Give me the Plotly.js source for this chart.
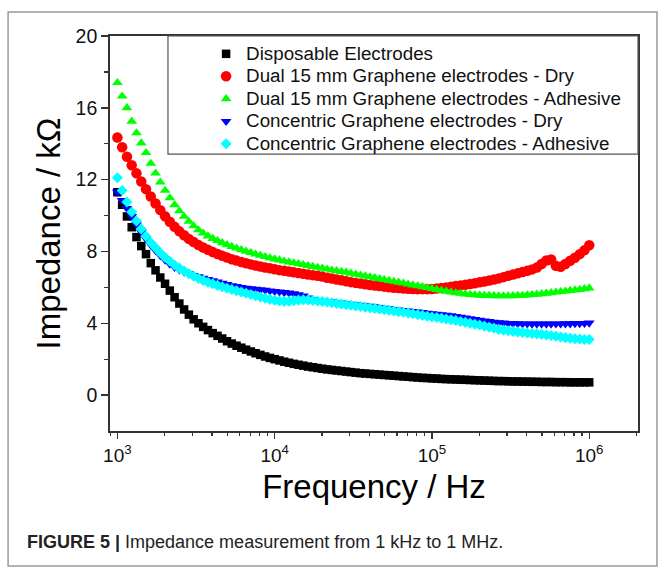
<!DOCTYPE html>
<html>
<head>
<meta charset="utf-8">
<script src="https://cdn.plot.ly/plotly-3.0.1.min.js"></script>
<style>
  html, body { margin: 0; padding: 0; background: #ffffff; }
  #chart { width: 665px; height: 571px; }
  .legend .legendtext { font-size: 18.8px !important; }
  .legend, .legend .scrollbox, .legend g { clip-path: none !important; }
</style>
</head>
<body>
<div id="chart"></div>
<script>
// ---- Data ----
const frequencyHz = [
  1000, 1072, 1150, 1233, 1322, 1418, 1520, 1630, 1748, 1874, 2009, 2154, 2310, 2477, 2656, 2848, 3054,
  3275, 3511, 3765, 4037, 4329, 4642, 4977, 5337, 5722, 6136, 6579, 7055, 7565, 8111, 8697, 9326,
  10000, 10723, 11498, 12328, 13219, 14175, 15199, 16298, 17475, 18738, 20092, 21544, 23101, 24771, 26561, 28480, 30539,
  32745, 35112, 37649, 40370, 43288, 46416, 49770, 53367, 57224, 61359, 65793, 70548, 75646, 81113, 86975, 93260,
  100000, 107227, 114976, 123285, 132194, 141747, 151991, 162975, 174753, 187382, 200923, 215443, 231013, 247708, 265609, 284804, 305386,
  327455, 351119, 376494, 403702, 432876, 464159, 497702, 533670, 572237, 613591, 657933, 705480, 756463, 811131, 869749, 932603,
  1000000
];

const disposable = [
  11.3, 10.6, 9.95, 9.35, 8.8, 8.3, 7.85, 7.35, 6.95, 6.55,
  6.2, 5.82, 5.45, 5.1, 4.77, 4.48, 4.22, 4.0, 3.8, 3.62,
  3.45, 3.3, 3.15, 3.0, 2.87, 2.75, 2.64, 2.53, 2.43, 2.33,
  2.24, 2.15, 2.07, 2.0, 1.93, 1.86, 1.8, 1.74, 1.69, 1.64,
  1.59, 1.55, 1.51, 1.47, 1.43, 1.4, 1.37, 1.34, 1.31, 1.28,
  1.25, 1.22, 1.2, 1.18, 1.16, 1.14, 1.12, 1.1, 1.08, 1.06,
  1.04, 1.02, 1.0, 0.98, 0.96, 0.95, 0.93, 0.92, 0.9, 0.89,
  0.88, 0.87, 0.86, 0.85, 0.84, 0.83, 0.82, 0.81, 0.8, 0.79,
  0.78, 0.78, 0.77, 0.76, 0.76, 0.75, 0.75, 0.74, 0.74, 0.73,
  0.73, 0.73, 0.72, 0.72, 0.72, 0.71, 0.71, 0.71, 0.71, 0.71
];

const dualDry = [
  14.35, 13.8, 13.27, 12.8, 12.35, 11.9, 11.47, 11.06, 10.67, 10.3,
  9.96, 9.65, 9.37, 9.12, 8.9, 8.7, 8.52, 8.36, 8.22, 8.09,
  7.97, 7.86, 7.76, 7.66, 7.57, 7.49, 7.41, 7.34, 7.28, 7.22,
  7.16, 7.11, 7.06, 7.01, 6.96, 6.92, 6.88, 6.84, 6.8, 6.76,
  6.72, 6.68, 6.64, 6.6, 6.54, 6.49, 6.44, 6.39, 6.34, 6.29,
  6.25, 6.21, 6.17, 6.13, 6.1, 6.07, 6.04, 6.01, 5.98, 5.96,
  5.94, 5.92, 5.91, 5.9, 5.9, 5.9, 5.91, 5.93, 5.96, 5.99,
  6.03, 6.07, 6.11, 6.15, 6.19, 6.23, 6.28, 6.33, 6.38, 6.44,
  6.5, 6.57, 6.64, 6.71, 6.78, 6.85, 6.92, 7.0, 7.1, 7.3,
  7.5, 7.55, 7.2, 7.15, 7.3, 7.48, 7.65, 7.85, 8.07, 8.35
];

const dualAdhesive = [
  17.4, 16.65, 16.0, 15.25, 14.6, 14.04, 13.5, 12.9, 12.36, 11.86,
  11.4, 10.98, 10.6, 10.26, 9.95, 9.67, 9.42, 9.2, 9.02, 8.86,
  8.72, 8.6, 8.48, 8.37, 8.27, 8.18, 8.09, 8.01, 7.93, 7.85,
  7.78, 7.71, 7.64, 7.58, 7.52, 7.46, 7.41, 7.36, 7.31, 7.26,
  7.21, 7.16, 7.11, 7.06, 7.01, 6.96, 6.92, 6.88, 6.84, 6.78,
  6.73, 6.68, 6.63, 6.58, 6.53, 6.48, 6.43, 6.38, 6.33, 6.28,
  6.23, 6.18, 6.13, 6.08, 6.03, 5.98, 5.93, 5.88, 5.83, 5.78,
  5.73, 5.69, 5.66, 5.63, 5.6, 5.58, 5.56, 5.55, 5.54, 5.53,
  5.52, 5.52, 5.52, 5.53, 5.54, 5.55, 5.57, 5.59, 5.61, 5.64,
  5.67, 5.7, 5.73, 5.76, 5.79, 5.82, 5.85, 5.88, 5.92, 5.96
];

const concentricDry = [
  11.3, 10.85, 10.4, 9.95, 9.5, 9.08, 8.7, 8.36, 8.05, 7.77,
  7.52, 7.3, 7.12, 6.98, 6.86, 6.76, 6.67, 6.6, 6.52, 6.44,
  6.37, 6.3, 6.23, 6.16, 6.1, 6.05, 6.0, 5.96, 5.93, 5.9,
  5.87, 5.84, 5.81, 5.78, 5.75, 5.72, 5.69, 5.65, 5.6, 5.52,
  5.42, 5.33, 5.27, 5.23, 5.2, 5.2, 5.16, 5.13, 5.1, 5.07,
  5.04, 5.01, 4.98, 4.95, 4.92, 4.88, 4.85, 4.82, 4.78, 4.75,
  4.72, 4.69, 4.66, 4.63, 4.6, 4.57, 4.54, 4.51, 4.48, 4.45,
  4.42, 4.38, 4.34, 4.3, 4.26, 4.22, 4.18, 4.14, 4.1, 4.07,
  4.04, 4.02, 4.0, 3.99, 3.98, 3.97, 3.97, 3.96, 3.96, 3.96,
  3.96, 3.96, 3.97, 3.97, 3.98, 3.98, 3.99, 3.99, 4.0, 4.02
];

const concentricAdhesive = [
  12.1, 11.4, 10.75, 10.2, 9.7, 9.25, 8.85, 8.5, 8.2, 7.92,
  7.67, 7.45, 7.25, 7.07, 6.91, 6.76, 6.62, 6.5, 6.39, 6.29,
  6.2, 6.11, 6.03, 5.95, 5.88, 5.81, 5.74, 5.67, 5.6, 5.53,
  5.46, 5.39, 5.33, 5.28, 5.24, 5.22, 5.23, 5.26, 5.29, 5.31,
  5.3, 5.27, 5.24, 5.21, 5.18, 5.14, 5.1, 5.07, 5.03, 5.0,
  4.96, 4.93, 4.89, 4.86, 4.82, 4.79, 4.75, 4.72, 4.68, 4.65,
  4.61, 4.57, 4.53, 4.48, 4.44, 4.39, 4.35, 4.32, 4.28, 4.24,
  4.2, 4.15, 4.1, 4.05, 4.0, 3.95, 3.9, 3.84, 3.78, 3.72,
  3.66, 3.62, 3.58, 3.55, 3.52, 3.49, 3.46, 3.43, 3.41, 3.38,
  3.35, 3.32, 3.28, 3.24, 3.2, 3.17, 3.14, 3.12, 3.1, 3.1
];

const seriesNames = [
  'Disposable Electrodes',
  'Dual 15 mm Graphene electrodes - Dry',
  'Dual 15 mm Graphene electrodes - Adhesive',
  'Concentric Graphene electrodes - Dry',
  'Concentric Graphene electrodes - Adhesive'
];

const xTickValues = [1e3, 1e4, 1e5, 1e6];
const xTickLabels = ['10<sup>3</sup>', '10<sup>4</sup>', '10<sup>5</sup>', '10<sup>6</sup>'];
const xMinorTickValues = [900, 2000, 3000, 4000, 5000, 6000, 7000, 8000, 9000,
  20000, 30000, 40000, 50000, 60000, 70000, 80000, 90000,
  200000, 300000, 400000, 500000, 600000, 700000, 800000, 900000, 2000000];
const yTickValues = [0, 4, 8, 12, 16, 20];
const yMinorTickValues = [2, 6, 10, 14, 18];

// ---- Styling ----
const FONT = '"Liberation Sans", Arial, Helvetica, sans-serif';
const AXIS = '#333333';

const styles = [
  { symbol: 'square', color: '#000000', size: 8.5 },
  { symbol: 'circle', color: '#ff0000', size: 10.5 },
  { symbol: 'triangle-up', color: '#00ff00', size: 9.5 },
  { symbol: 'triangle-down', color: '#0000ff', size: 9.5 },
  { symbol: 'diamond', color: '#00ffff', size: 8.5 }
];
const values = [disposable, dualDry, dualAdhesive, concentricDry, concentricAdhesive];

const traces = values.map((v, i) => ({
  type: 'scatter',
  mode: 'markers',
  name: seriesNames[i],
  x: frequencyHz,
  y: v,
  marker: { symbol: styles[i].symbol, color: styles[i].color, size: styles[i].size, line: { width: 0 } },
  cliponaxis: true
}));

const xRange = [2.953, 6.31];
const yRange = [-2, 20];

const layout = {
  width: 665,
  height: 571,
  margin: { l: 110, r: 27, t: 36, b: 140, pad: 0 },
  paper_bgcolor: '#ffffff',
  plot_bgcolor: '#ffffff',
  font: { family: FONT, color: '#111111' },
  hovermode: false,
  showlegend: true,
  legend: {
    x: 0.182, y: 0.996, xanchor: 'left', yanchor: 'top',
    bgcolor: 'rgba(0,0,0,0)', borderwidth: 0,
    font: { family: FONT, size: 15, color: '#111111' },
    tracegroupgap: 0
  },
  xaxis: {
    type: 'log', range: xRange,
    tickmode: 'array', tickvals: xTickValues, ticktext: xTickLabels,
    ticks: 'outside', ticklen: 6, tickwidth: 1.4, tickcolor: AXIS,
    showline: true, linecolor: AXIS, linewidth: 1.8, mirror: true,
    showgrid: false, zeroline: false,
    tickfont: { family: FONT, size: 19, color: '#111111' },
    minor: { tickmode: 'array', tickvals: xMinorTickValues, ticks: 'outside', ticklen: 3.5, tickwidth: 1.2, tickcolor: AXIS, showgrid: false },
    title: { text: 'Frequency / Hz', font: { family: FONT, size: 33, color: '#000000' }, standoff: 10 }
  },
  yaxis: {
    range: yRange,
    tickmode: 'array', tickvals: yTickValues,
    ticks: 'outside', ticklen: 7, tickwidth: 1.4, tickcolor: AXIS,
    showline: true, linecolor: AXIS, linewidth: 1.8, mirror: true,
    showgrid: false, zeroline: false,
    tickfont: { family: FONT, size: 19.5, color: '#111111' },
    minor: { tickmode: 'array', tickvals: yMinorTickValues, ticks: 'outside', ticklen: 4, tickwidth: 1.2, tickcolor: AXIS, showgrid: false },
    title: { text: 'Impedance / kΩ', font: { family: FONT, size: 33, color: '#000000' }, standoff: 5 }
  },
  xaxis2: {
    type: 'log', range: xRange, overlaying: 'x', side: 'top', anchor: 'y',
    tickmode: 'array', tickvals: xTickValues, showticklabels: false,
    ticks: 'inside', ticklen: 6, tickwidth: 1.4, tickcolor: AXIS,
    minor: { tickmode: 'array', tickvals: xMinorTickValues, ticks: 'inside', ticklen: 3.5, tickwidth: 1.2, tickcolor: AXIS, showgrid: false },
    showline: false, showgrid: false, zeroline: false
  },
  yaxis2: {
    range: yRange, overlaying: 'y', side: 'right', anchor: 'x',
    tickmode: 'array', tickvals: yTickValues, showticklabels: false,
    ticks: 'inside', ticklen: 7, tickwidth: 1.4, tickcolor: AXIS,
    minor: { tickmode: 'array', tickvals: yMinorTickValues, ticks: 'inside', ticklen: 4, tickwidth: 1.2, tickcolor: AXIS, showgrid: false },
    showline: false, showgrid: false, zeroline: false
  },
  shapes: [
    // outer figure frame
    { type: 'rect', xref: 'paper', yref: 'paper', x0: -0.193, x1: 1.036, y0: -0.342, y1: 1.061,
      line: { color: '#9a9a9a', width: 1.5 }, fillcolor: 'rgba(0,0,0,0)', layer: 'below' },
    // legend box
    { type: 'rect', xref: 'paper', yref: 'paper', x0: 0.1098, x1: 1, y0: 0.701, y1: 1,
      line: { color: '#555555', width: 1.2 }, fillcolor: '#ffffff', layer: 'above' }
  ],
  annotations: [
    { xref: 'paper', yref: 'paper', x: -0.161, y: -0.281, xanchor: 'left', yanchor: 'middle',
      showarrow: false, align: 'left',
      text: '<b>FIGURE 5 |</b> Impedance measurement from 1 kHz to 1 MHz.',
      font: { family: FONT, size: 18, color: '#222222' } }
  ]
};

Plotly.newPlot('chart', traces, layout, { staticPlot: true, displayModeBar: false });
</script>
</body>
</html>
